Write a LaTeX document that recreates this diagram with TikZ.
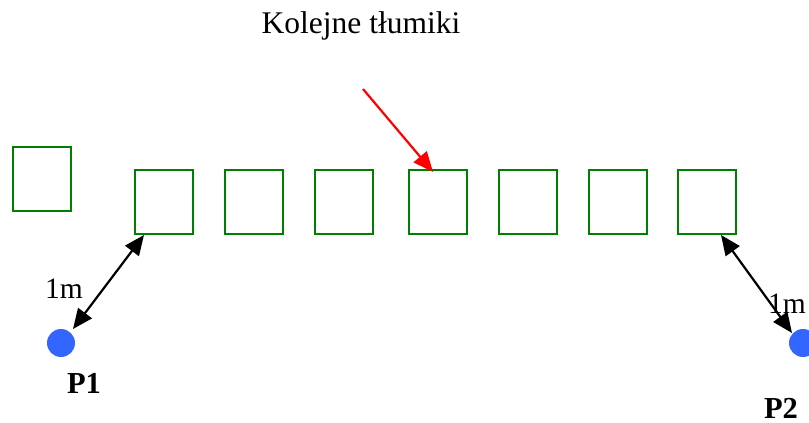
\documentclass[tikz,border=0pt]{standalone}
\usepackage{fontspec}
\setmainfont{Liberation Serif}
\usetikzlibrary{arrows.meta}
\definecolor{boxgreen}{RGB}{0,128,0}
\definecolor{dotblue}{RGB}{51,102,255}
\definecolor{arrred}{RGB}{255,0,0}
\begin{document}
\begin{tikzpicture}[x=1pt,y=-1pt,
  damper/.style={draw=boxgreen,line width=2pt,fill=white,minimum width=58pt,minimum height=64pt,inner sep=0pt,anchor=north west},
  pdot/.style={circle,fill=dotblue,minimum size=28pt,inner sep=0pt},
  lbl/.style={font=\fontsize{29.5}{34}\selectfont,inner sep=0pt},
  plbl/.style={font=\fontsize{30.5}{34}\selectfont\bfseries,inner sep=0pt},
  dimarrow/.style={line width=2.2pt,{Triangle[length=20pt,width=17pt]}-{Triangle[length=20pt,width=17pt]}},
  redarrow/.style={draw=arrred,line width=2.2pt,-{Triangle[length=20pt,width=17pt]}}]
\useasboundingbox (0,0) rectangle (809,423);
\node[damper] (b0) at (12,146) {};
\node[damper] (b1) at (134,169) {};
\node[damper] (b2) at (224,169) {};
\node[damper] (b3) at (314,169) {};
\node[damper] (b4) at (408,169) {};
\node[damper] (b5) at (498,169) {};
\node[damper] (b6) at (588,169) {};
\node[damper] (b7) at (677,169) {};
\node[pdot] (p1) at (61,343) {};
\node[pdot] (p2) at (803,343) {};
\node[plbl,anchor=base] (t1) at (84,393) {P1};
\node[plbl,anchor=base] (t2) at (781,418) {P2};
\node[lbl,anchor=base west] (m1) at (45,298) {1m};
\node[lbl,anchor=base west] (m2) at (768,313) {1m};
\node[font=\fontsize{31.5}{36}\selectfont,inner sep=0pt,anchor=base] (title) at (361,33) {Kolejne tłumiki};
\coordinate (rs) at (363,89);
\coordinate (c1) at (144,235);
\coordinate (d1) at (73,329);
\coordinate (c7) at (721,235);
\coordinate (d2) at (792,333);
\coordinate (rt) at (433,172);
\draw[dimarrow] (d1) -- (c1);
\draw[dimarrow] (c7) -- (d2);
\draw[redarrow] (rs) -- (rt);
\end{tikzpicture}
\end{document}
